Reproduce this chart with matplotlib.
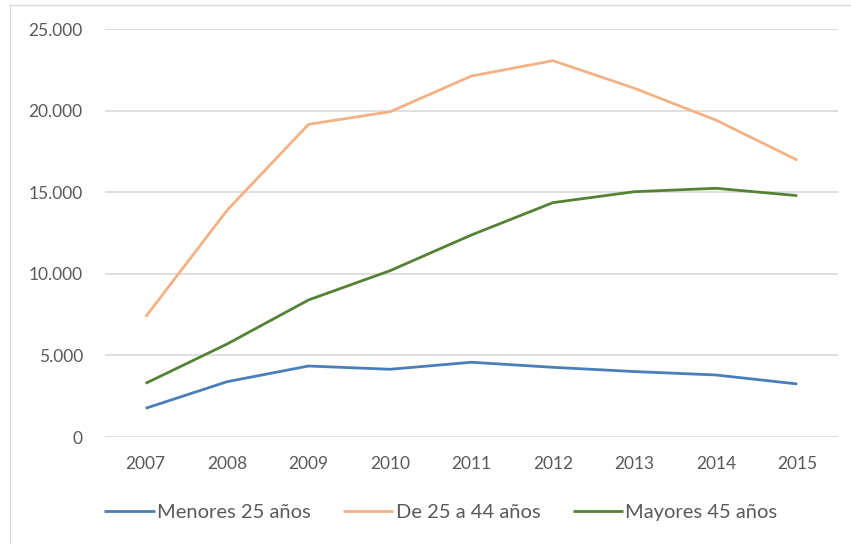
import matplotlib
matplotlib.use("Agg")
import matplotlib.pyplot as plt
from matplotlib.lines import Line2D
from matplotlib.ticker import FuncFormatter

years = ["2007", "2008", "2009", "2010", "2011", "2012", "2013", "2014", "2015"]
menores_25 = [1760, 3390, 4350, 4150, 4580, 4270, 4010, 3800, 3250]
de_25_a_44 = [7370, 13900, 19160, 19930, 22120, 23060, 21370, 19420, 16970]
mayores_45 = [3290, 5700, 8400, 10190, 12380, 14360, 15030, 15240, 14790]
series_names = ["Menores 25 años", "De 25 a 44 años", "Mayores 45 años"]
colors = ["#4A7EBB", "#F4B183", "#548235"]

plt.rcParams['font.family'] = ['Lato', 'DejaVu Sans']

W, H = 851, 544
fig = plt.figure(figsize=(W / 100, H / 100), dpi=100)
ax = fig.add_axes([105 / W, 1 - 437 / H, (838 - 105) / W, (437 - 29) / H])

x = list(range(len(years)))
for vals, name, c in zip([menores_25, de_25_a_44, mayores_45], series_names, colors):
    ax.plot(x, vals, color=c, lw=2.0, label=name, solid_capstyle='butt', solid_joinstyle='round')

ax.set_xlim(-0.5, len(years) - 0.5)
ax.set_ylim(0, 25000)
ax.set_yticks(range(0, 25001, 5000))
ax.yaxis.set_major_formatter(FuncFormatter(lambda v, p: f"{int(v):,}".replace(",", ".")))
ax.set_xticks(x)
ax.set_xticklabels(years)
ax.grid(axis='y', color='#D9D9D9', lw=1.2)
ax.set_axisbelow(True)
for s in ax.spines.values():
    s.set_visible(False)
ax.tick_params(axis='both', length=0, colors='#595959', labelsize=12.5)
ax.tick_params(axis='y', pad=16)
ax.tick_params(axis='x', pad=14)

leg = fig.legend(loc='center', bbox_to_anchor=(441 / W, 1 - 512 / H), ncol=3, frameon=False,
                 fontsize=14.5, handlelength=2.5, handletextpad=0.12, columnspacing=1.6,
                 labelcolor='#595959')

# chart frame (left and top edges)
fig.add_artist(Line2D([10 / W, 10 / W], [0, 1 - 5 / H], transform=fig.transFigure, color='#D9D9D9', lw=1))
fig.add_artist(Line2D([10 / W, 1], [1 - 5 / H, 1 - 5 / H], transform=fig.transFigure, color='#D9D9D9', lw=1))

fig.savefig("out.png", dpi=100)
